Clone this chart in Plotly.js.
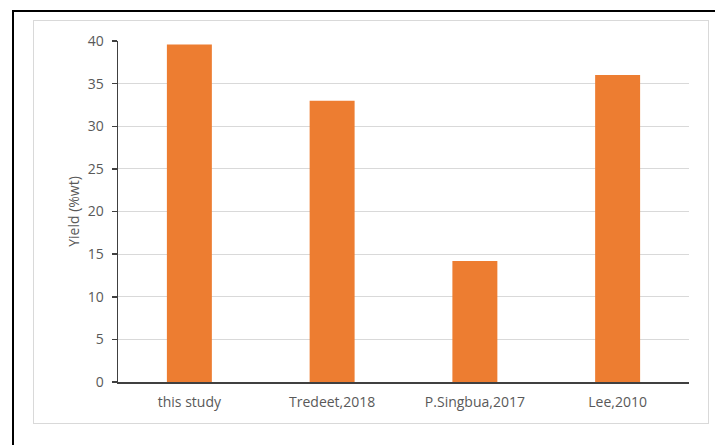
<!DOCTYPE html>
<html>
<head>
<meta charset="utf-8">
<script src="https://cdn.plot.ly/plotly-3.0.1.min.js"></script>
<style>
html,body{margin:0;padding:0;background:#fff;}
#wrap{position:relative;width:715px;height:445px;overflow:hidden;}
#chart{position:absolute;left:0;top:0;width:715px;height:445px;}
#outer{position:absolute;left:12px;top:10px;width:720px;height:460px;border:2px solid #000;pointer-events:none;}
#inner{position:absolute;left:33px;top:20px;width:674px;height:402px;border:1px solid #D9D9D9;pointer-events:none;}
</style>
</head>
<body>
<div id="wrap">
<div id="chart"></div>
<div id="outer"></div>
<div id="inner"></div>
</div>
<script>
const categories = ["this study", "Tredeet,2018", "P.Singbua,2017", "Lee,2010"];
const yieldValues = [39.6, 33.0, 14.2, 36.0];
const yTicks = [0, 5, 10, 15, 20, 25, 30, 35, 40];

const font = {family: "'Open Sans', Lato, sans-serif", size: 14, color: "#595959"};

Plotly.newPlot("chart", [{
  type: "bar",
  x: categories,
  y: yieldValues,
  marker: {color: "#ED7D31"},
  hoverinfo: "none"
}], {
  width: 715, height: 445,
  margin: {l: 118, r: 26, t: 40.5, b: 63.3, pad: 0},
  paper_bgcolor: "rgba(0,0,0,0)",
  plot_bgcolor: "#fff",
  bargap: 0.685,
  font: font,
  showlegend: false,
  xaxis: {
    type: "category",
    showline: true, linecolor: "#404040", linewidth: 1.5,
    ticks: "", showgrid: false, zeroline: false,
    tickfont: font,
    ticklabelstandoff: 7
  },
  yaxis: {
    range: [0, 40],
    tickvals: yTicks,
    showline: true, linecolor: "#404040", linewidth: 1.5,
    ticks: "outside", ticklen: 5, tickcolor: "#404040", tickwidth: 1.5,
    showgrid: true, gridcolor: "#D9D9D9", gridwidth: 1,
    zeroline: false,
    tickfont: font,
    ticklabelstandoff: 5,
    title: {text: "Yield (%wt)", font: font, standoff: 5}
  }
}, {staticPlot: true});
</script>
</body>
</html>
